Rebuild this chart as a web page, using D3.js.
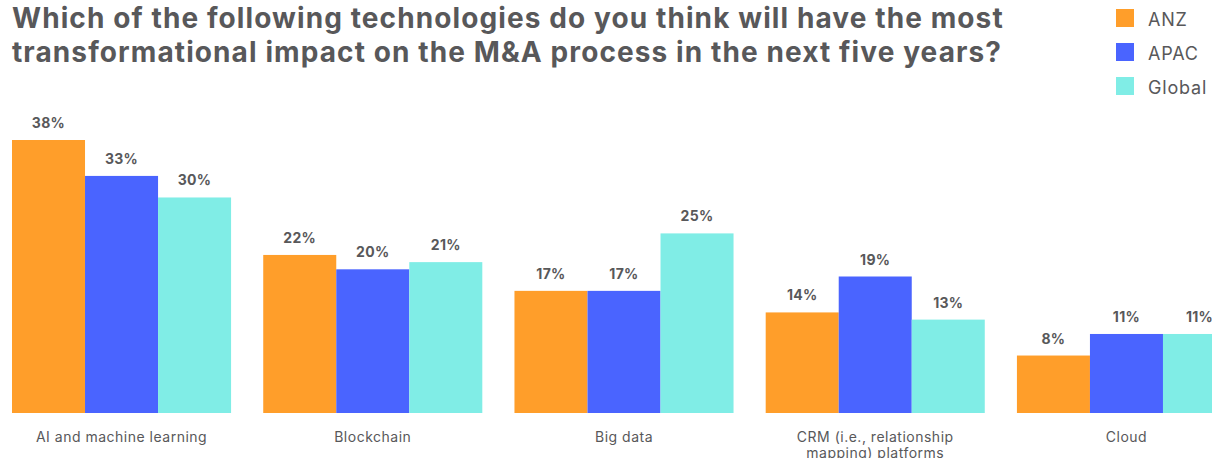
<!DOCTYPE html>
<html>
<head>
<meta charset="utf-8">
<script src="https://cdn.jsdelivr.net/npm/d3@7"></script>
<style>
  html, body { margin: 0; padding: 0; background: #fff; overflow: hidden; }
  svg { display: block; }
  text { font-family: Inter, "Liberation Sans", Arial, sans-serif; }
</style>
</head>
<body>
<svg id="chart" width="1212" height="458"></svg>
<script>
// Survey responses, share of respondents (%)
const categories = [
  "AI and machine learning",
  "Blockchain",
  "Big data",
  "CRM (i.e., relationship mapping) platforms",
  "Cloud"
];
const seriesNames = ["ANZ", "APAC", "Global"];
const anz    = [38, 22, 17, 14, 8];
const apac   = [33, 20, 17, 19, 11];
const global = [30, 21, 25, 13, 11];
const seriesColors = ["#FF9E2A", "#4A64FF", "#80EDE6"];
const titleLines = [
  "Which of the following technologies do you think will have the most",
  "transformational impact on the M&A process in the next five years?"
];

const seriesValues = [anz, apac, global];
const rows = categories.map((c, i) => ({
  category: c,
  values: seriesNames.map((s, j) => ({ series: s, value: seriesValues[j][i] }))
}));

const svg = d3.select("#chart");
const textColor = "#58585A";
const font = "Inter, 'Liberation Sans', Arial, sans-serif";

// Scales: the plot runs past the right edge, clipping the last bar
const baseline = 413;
const x0 = d3.scaleBand().domain(categories).range([12, 1236]).paddingInner(0.128).paddingOuter(0);
const x1 = d3.scaleBand().domain(seriesNames).range([0, x0.bandwidth()]).padding(0);
const y = d3.scaleLinear().domain([0, 38]).range([baseline, 140]);
const color = d3.scaleOrdinal().domain(seriesNames).range(seriesColors);

// Title
svg.append("g").selectAll("text")
  .data(titleLines)
  .join("text")
  .attr("x", 12)
  .attr("y", (d, i) => 28 + i * 34)
  .attr("font-size", 28)
  .attr("font-weight", 700)
  .attr("letter-spacing", 1.1)
  .attr("fill", textColor)
  .text(d => d);

// Legend
const legend = svg.append("g").selectAll("g")
  .data(seriesNames)
  .join("g")
  .attr("transform", (d, i) => `translate(1116, ${9 + i * 34})`);
legend.append("rect")
  .attr("width", 18).attr("height", 18)
  .attr("fill", d => color(d));
legend.append("text")
  .attr("x", 32).attr("y", 17)
  .attr("font-size", 18)
  .attr("letter-spacing", 0.8)
  .attr("fill", textColor)
  .text(d => d);

// Bars
const groups = svg.append("g").selectAll("g")
  .data(rows)
  .join("g")
  .attr("transform", d => `translate(${x0(d.category)},0)`);

groups.selectAll("rect")
  .data(d => d.values)
  .join("rect")
  .attr("x", d => x1(d.series))
  .attr("y", d => y(d.value))
  .attr("width", x1.bandwidth())
  .attr("height", d => baseline - y(d.value))
  .attr("fill", d => color(d.series));

// Value labels
groups.selectAll("text.value")
  .data(d => d.values)
  .join("text")
  .attr("class", "value")
  .attr("x", d => x1(d.series) + x1.bandwidth() / 2)
  .attr("y", d => y(d.value) - 12)
  .attr("text-anchor", "middle")
  .attr("font-size", 14)
  .attr("font-weight", 700)
  .attr("letter-spacing", 0.3)
  .attr("fill", textColor)
  .text(d => d.value + "%");

// Category axis labels, wrapped to fit the group width
const xAxis = d3.axisBottom(x0).tickSize(0).tickPadding(0);
const axisG = svg.append("g")
  .attr("transform", `translate(0,${baseline})`)
  .call(xAxis);
axisG.select(".domain").remove();
axisG.selectAll(".tick text")
  .attr("font-family", font)
  .attr("font-size", 14)
  .attr("letter-spacing", 0.5)
  .attr("fill", textColor)
  .attr("y", 0)
  .attr("dy", 0)
  .each(function(d) {
    const t = d3.select(this);
    const words = d.split(" ");
    t.text(null);
    const maxW = 200;
    let line = [];
    let lineNo = 0;
    let tspan = t.append("tspan").attr("x", 0).attr("y", 29);
    for (const w of words) {
      line.push(w);
      tspan.text(line.join(" "));
      if (tspan.node().getComputedTextLength() > maxW && line.length > 1) {
        line.pop();
        tspan.text(line.join(" "));
        line = [w];
        lineNo++;
        tspan = t.append("tspan").attr("x", 0).attr("y", 29 + lineNo * 16).text(w);
      }
    }
  });
</script>
</body>
</html>
